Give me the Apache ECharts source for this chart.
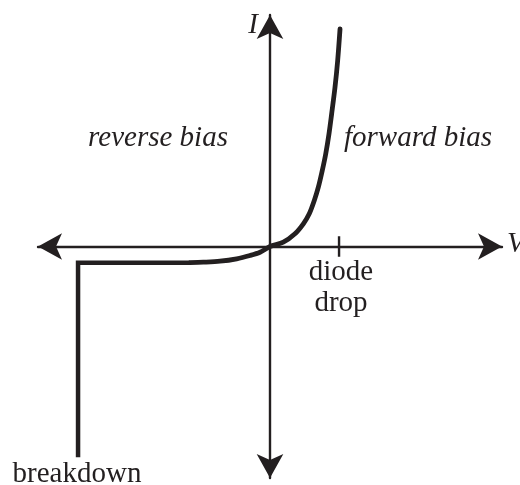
<!DOCTYPE html>
<html lang="en">
<head>
    <meta charset="UTF-8">
    <title>diode_iv</title>
    <style>
        html, body { margin: 0; padding: 0; background: #fff; }
        #main { width: 520px; height: 485px; }
    </style>
</head>
<body>
    <div id="main"></div>
</body>
<script src="https://cdn.jsdelivr.net/npm/echarts@6/dist/echarts.min.js"></script>
<script>
    var main = echarts.init(document.getElementById('main'))
    var ink = '#231f20'
    var serif = '"Liberation Serif", "DejaVu Serif", serif'

    // curve from the knee up through the origin (V, I)
    var curveV = [-0.811, -0.676, -0.507, -0.338, -0.203, -0.101, 0, 0.135, 0.253, 0.338, 0.398, 0.449, 0.49, 0.53, 0.565, 0.598, 0.625, 0.659, 0.686, 0.71]
    var curveI = [-0.84, -0.815, -0.762, -0.637, -0.466, -0.295, 0, 0.223, 0.658, 1.176, 1.694, 2.383, 3.073, 3.938, 4.803, 5.839, 6.876, 8.254, 9.637, 11.28]
    // flat reverse current, then breakdown
    var reverseV = [-1.946, -1.946, -0.811]
    var reverseI = [-10.93, -0.84, -0.84]
    var diodeDrop = 0.7
    var tickHalf = 0.53

    function pairs(xs, ys) {
        return xs.map(function (x, i) { return [x, ys[i]] })
    }

    var axisLine = {
        onZero: true,
        symbol: ['arrow', 'arrow'],
        symbolSize: [20, 24],
        lineStyle: { color: ink, width: 2.4 }
    }

    option = {
        animation: false,
        grid: { left: 38, right: 18, top: 15, bottom: 7 },
        xAxis: {
            type: 'value', min: -2.352, max: 2.352,
            axisLine: axisLine,
            axisTick: { show: false }, axisLabel: { show: false }, splitLine: { show: false }
        },
        yAxis: {
            type: 'value', min: -12, max: 12,
            axisLine: axisLine,
            axisTick: { show: false }, axisLabel: { show: false }, splitLine: { show: false }
        },
        series: [
            {
                type: 'line', smooth: 0.3, symbol: 'none',
                lineStyle: { color: ink, width: 4.8, cap: 'round' },
                data: pairs(curveV, curveI)
            },
            {
                type: 'line', symbol: 'none',
                lineStyle: { color: ink, width: 4.5, join: 'miter' },
                data: pairs(reverseV, reverseI)
            },
            {
                type: 'line', symbol: 'none',
                lineStyle: { color: ink, width: 2.4 },
                data: [[diodeDrop, -tickHalf], [diodeDrop, tickHalf]]
            }
        ],
        graphic: [
            { type: 'text', x: 253, y: 25, style: { text: 'I', font: 'italic 29px ' + serif, fill: ink, align: 'center', verticalAlign: 'middle' } },
            { type: 'text', x: 507, y: 244, style: { text: 'V', font: 'italic 29px ' + serif, fill: ink, align: 'left', verticalAlign: 'middle' } },
            { type: 'text', x: 158, y: 138, style: { text: 'reverse bias', font: 'italic 29px ' + serif, fill: ink, align: 'center', verticalAlign: 'middle' } },
            { type: 'text', x: 418, y: 138, style: { text: 'forward bias', font: 'italic 29px ' + serif, fill: ink, align: 'center', verticalAlign: 'middle' } },
            { type: 'text', x: 341, y: 272, style: { text: 'diode', font: '29px ' + serif, fill: ink, align: 'center', verticalAlign: 'middle' } },
            { type: 'text', x: 341, y: 303, style: { text: 'drop', font: '29px ' + serif, fill: ink, align: 'center', verticalAlign: 'middle' } },
            { type: 'text', x: 77, y: 474, style: { text: 'breakdown', font: '29px ' + serif, fill: ink, align: 'center', verticalAlign: 'middle' } }
        ]
    };
    main.setOption(option)
</script>
</html>
